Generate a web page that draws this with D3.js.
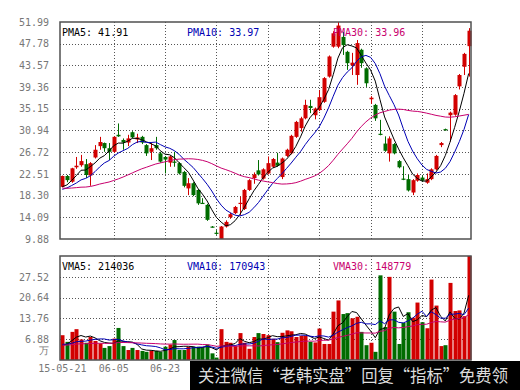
<!DOCTYPE html>
<html>
<head>
<meta charset="utf-8">
<script src="https://cdn.jsdelivr.net/npm/d3@7"></script>
<style>
	body{margin:0; background:#fff;}
	svg{display:block;}
	text{font-family:"DejaVu Sans Mono", monospace; font-size:10px;}
</style>
</head>
<body>
<svg id="chart" width="520" height="390"></svg>
<script>

// Daily candles from 15-05-21, one entry per trading day.
const opens  = [20.0,22.1,21.0,23.8,24.2,24.4,22.2,25.7,27.9,28.5, 27.5,26.8,30.1,29.1,28.6,30.6,29.2,29.7,28.1,26.8,
                28.1,26.5,25.8,24.7,24.9,24.6,22.9,19.7,20.7,19.4, 16.9,16.5,12.3,11.1,9.9,12.3,14.1,14.9,16.8,15.7,
                19.4,21.7,23.2,21.6,22.6,23.9,24.7,21.9,26.0,26.5, 29.7,31.4,33.3,35.7,33.9,34.9,36.5,41.4,47.2,47.2,
                49.1,46.2,43.6,41.7,46.6,43.0,37.0,35.9,30.3,28.4, 26.5,28.3,25.0,21.6,21.5,18.9,21.2,21.8,20.8,21.5,
                23.4,28.1,31.2,33.9,34.0,39.5,43.3,47.3];
const highs  = [22.2,22.3,23.7,25.8,26.2,25.4,24.8,28.1,29.7,28.6, 28.5,29.8,32.3,29.4,30.1,30.8,30.3,29.9,28.3,28.5,
                29.7,26.8,26.0,26.1,26.8,24.8,23.1,21.7,20.9,19.6, 17.8,16.7,12.4,11.6,12.4,13.5,15.0,16.3,18.1,19.6,
                21.5,22.8,25.2,23.6,25.9,25.6,26.6,25.7,27.4,30.1, 32.8,33.6,36.9,36.9,35.4,38.8,41.3,45.5,50.2,51.99,
                50.1,46.4,46.0,48.5,46.8,43.2,37.6,36.1,33.0,29.8, 29.8,28.5,25.2,24.0,22.3,21.5,22.6,22.2,22.6,23.6,
                26.2,28.7,31.3,34.6,38.0,41.9,46.0,50.8];
const lows   = [19.9,20.9,20.8,23.5,23.9,21.7,20.2,25.5,27.2,26.8, 25.2,26.6,29.7,27.2,27.9,29.4,28.5,28.3,26.0,25.2,
                27.2,24.7,22.6,23.9,23.9,22.4,19.9,18.4,18.2,16.5, 16.7,13.4,12.1,10.7,9.88,12.1,13.8,14.7,14.5,15.5,
                19.2,20.6,22.2,21.4,22.4,23.7,23.9,21.5,25.8,26.3, 29.5,30.7,33.1,34.3,33.1,34.7,36.3,41.2,47.0,46.9,
                45.6,42.7,41.7,39.8,43.1,39.4,36.1,32.8,30.0,26.8, 24.9,26.3,23.6,21.3,19.1,18.4,21.0,21.0,20.6,21.3,
                23.2,27.7,30.9,28.8,33.8,38.9,41.7,41.4];
const closes = [22.1,21.3,23.6,24.1,25.0,22.3,24.6,27.2,28.7,27.5, 26.8,29.7,29.8,28.6,29.4,29.6,29.6,28.6,26.5,27.5,
                27.5,24.9,25.3,25.9,24.7,22.6,20.2,20.7,18.4,16.8, 16.8,13.6,12.2,10.9,12.3,13.2,14.7,16.1,16.9,19.4,
                21.3,22.4,22.4,23.4,24.6,25.4,24.1,25.5,27.2,29.9, 32.6,33.3,35.9,35.3,35.2,37.4,41.1,45.3,49.8,51.3,
                47.5,44.0,44.1,47.9,44.0,40.1,37.3,33.3,30.1,27.0, 29.4,26.5,23.8,21.5,19.3,21.3,22.3,21.2,21.5,23.4,
                26.0,28.5,31.0,34.4,37.8,41.7,45.8,50.3];

// Volume in 万 (10k).
const volumes = [8.2,6.0,9.3,10.2,6.8,5.7,7.6,6.3,5.5,4.0, 4.6,7.1,10.6,4.6,3.3,4.0,3.3,3.0,2.7,3.0,
                 3.0,2.7,4.4,5.1,6.6,3.3,3.3,4.4,4.4,4.4, 4.2,5.1,2.2,0.8,10.2,6.0,5.7,4.6,8.9,5.7,
                 3.7,7.6,8.9,8.6,8.2,7.0,5.9,9.0,9.8,9.5, 7.6,8.0,8.0,6.0,5.8,10.4,5.3,5.3,16.0,19.7,
                 15.2,15.5,13.8,14.3,9.3,4.9,5.7,2.7,28.0,10.9, 27.5,16.0,5.3,12.3,15.8,14.0,19.0,12.5,10.5,26.6,
                 18.0,4.6,4.9,25.5,16.2,16.4,14.5,34.4];

// Days before the first visible candle, only needed to start the moving averages.
const priorCloses  = [22.5,22.0,21.8,22.3,21.6,21.0,21.2,20.8,21.5,21.0,20.6,20.5,
                      18.0,17.6,17.2,17.5,17.0,17.4,17.8,18.2,18.6,18.9,19.2,19.0,19.3,19.6,19.2,19.5,19.8];
const priorVolumes = [4.2,5.1,4.6,3.9,5.4,4.8,4.3,5.6,4.9,4.4,5.2,4.7,3.8,4.5,5.3,4.9,4.6,5.0,4.4,4.8,
                      5.8,6.2,5.1,5.4,5.0,4.3,3.8,4.1,4.1];

// Axis labels as printed.
const priceTicks  = ["9.88","14.09","18.30","22.51","26.72","30.94","35.15","39.36","43.57","47.78","51.99"];
const volumeTicks = ["6.88","13.76","20.64","27.52"];
const gridDays    = [0,11,22,33,44,55,66,77];
const dateLabels  = ["15-05-21","06-05","06-23"];

const priceLegend  = [["PMA5","41.91"],["PMA10","33.97"],["PMA30","33.96"]];
const volumeLegend = [["VMA5","214036"],["VMA10","170943"],["VMA30","148779"]];
const maPeriods    = [5,10,30];
const maColors     = ["#000000","#0000b4","#c8006e"];

const upColor = "#d20000", downColor = "#006c00";


let svg = d3.select("#chart");

// The two panels share the same x range.
let left = 60, right = 471;
let price = {top:22, bottom:239};
let vol   = {top:256, bottom:360};

let days = d3.range(closes.length);
let x = d3.scaleBand().domain(days).range([left, right]);
let cx = i => x(i) + x.bandwidth()/2;

let yP = d3.scaleLinear().domain([+priceTicks[0], +priceTicks[priceTicks.length-1]]).range([price.bottom, price.top]);
let yV = d3.scaleLinear().domain([0, 34.4]).range([vol.bottom, vol.top]);


function movingAverage(values, prior, n){
	let all = prior.concat(values);
	let off = prior.length;
	return values.map((v,i)=>d3.mean(all.slice(off+i-n+1, off+i+1)));
} // movingAverage


function grid(g, panel, yvalues, yscale){
	// dotted lines at the labelled levels and at every 11th day
	g.selectAll("line.h")
	  .data(yvalues)
	  .join("line")
	  .attr("x1", left).attr("x2", right)
	  .attr("y1", d=>Math.round(yscale(d))+0.5)
	  .attr("y2", d=>Math.round(yscale(d))+0.5);
	g.selectAll("line.v")
	  .data(gridDays.slice(1))
	  .join(enter=>enter.append("line").attr("class","v"))
	  .attr("x1", d=>Math.round(cx(d))+0.5).attr("x2", d=>Math.round(cx(d))+0.5)
	  .attr("y1", panel.top).attr("y2", panel.bottom);
	g.selectAll("line")
	  .attr("stroke","#555").attr("stroke-dasharray","1,2").attr("stroke-width",1);
} // grid


// ---- price panel ----
let pg = svg.append("g");
grid(pg.append("g"), price, priceTicks.slice(1,-1).map(Number), yP);

let candles = pg.append("g").selectAll("g")
  .data(days)
  .join("g")
  .attr("fill", i=>closes[i]>=opens[i] ? upColor : downColor)
  .attr("stroke", i=>closes[i]>=opens[i] ? upColor : downColor);

candles.append("line")
  .attr("x1", i=>Math.round(cx(i))+0.5).attr("x2", i=>Math.round(cx(i))+0.5)
  .attr("y1", i=>yP(highs[i])).attr("y2", i=>yP(lows[i]));

candles.append("rect")
  .attr("stroke","none")
  .attr("x", i=>Math.round(cx(i))-1.5)
  .attr("width", 4)
  .attr("y", i=>yP(Math.max(opens[i],closes[i])))
  .attr("height", i=>Math.max(1.2, Math.abs(yP(opens[i])-yP(closes[i]))));

let line = d3.line().x((d,i)=>cx(i));

maPeriods.forEach((n,k)=>{
	pg.append("path")
	  .datum(movingAverage(closes, priorCloses, n))
	  .attr("fill","none").attr("stroke", maColors[k]).attr("stroke-width",1)
	  .attr("d", line.y(d=>yP(d)));
});


// ---- volume panel ----
let vg = svg.append("g");
grid(vg.append("g"), vol, volumeTicks.map(Number), yV);

vg.append("g").selectAll("rect")
  .data(days)
  .join("rect")
  .attr("fill", i=>closes[i]>=opens[i] ? upColor : downColor)
  .attr("x", i=>Math.round(cx(i))-1.5)
  .attr("width", 4)
  .attr("y", i=>yV(volumes[i]))
  .attr("height", i=>yV(0)-yV(volumes[i]));

maPeriods.forEach((n,k)=>{
	vg.append("path")
	  .datum(movingAverage(volumes, priorVolumes, n))
	  .attr("fill","none").attr("stroke", maColors[k]).attr("stroke-width",1)
	  .attr("d", line.y(d=>yV(d)));
});


// ---- frames ----
[price, vol].forEach(p=>{
	svg.append("rect")
	  .attr("x", left).attr("y", p.top)
	  .attr("width", right-left).attr("height", p.bottom-p.top)
	  .attr("fill","none").attr("stroke","#505050").attr("stroke-width",1.5);
});


// ---- axes (labels only) ----
let axisP = d3.axisLeft(yP)
  .tickValues(priceTicks.map(Number))
  .tickFormat((d,i)=>priceTicks[i])
  .tickSize(0).tickPadding(11);
let axisV = d3.axisLeft(yV)
  .tickValues(volumeTicks.map(Number))
  .tickFormat((d,i)=>volumeTicks[i])
  .tickSize(0).tickPadding(11);
let axisD = d3.axisBottom(x)
  .tickValues(gridDays.slice(0, dateLabels.length))
  .tickFormat((d,i)=>dateLabels[i])
  .tickSize(0).tickPadding(5);

[svg.append("g").attr("transform",`translate(${left},0)`).call(axisP),
 svg.append("g").attr("transform",`translate(${left},0)`).call(axisV),
 svg.append("g").attr("transform",`translate(0,${vol.bottom})`).call(axisD)
].forEach(g=>{
	g.select(".domain").remove();
	g.selectAll("text").attr("fill","#777").style("font-family",'"DejaVu Sans Mono", monospace').style("font-size","10px");
});

// unit under the volume labels
svg.append("text")
  .attr("x", 49).attr("y", 354)
  .attr("text-anchor","end").attr("fill","#777")
  .text("万");


// ---- legends ----
let legendX = [62, 187, 333];
function legend(items, baseline){
	svg.append("g").selectAll("text")
	  .data(items)
	  .join("text")
	  .attr("x", (d,i)=>legendX[i]).attr("y", baseline)
	  .attr("fill", (d,i)=>maColors[i])
	  .attr("xml:space","preserve")
	  .text(d=>`${d[0]}: ${d[1]}`);
} // legend
legend(priceLegend, 36);
legend(volumeLegend, 270);


// ---- watermark strip along the bottom ----
svg.append("rect")
  .attr("x",190).attr("y",361).attr("width",330).attr("height",29)
  .attr("fill","#000");
svg.append("text")
  .attr("x",198).attr("y",382)
  .attr("textLength",310).attr("lengthAdjust","spacingAndGlyphs")
  .attr("fill","#dcdcdc")
  .style("font-family",'"Noto Sans CJK SC", sans-serif').style("font-size","17px")
  .text("关注微信“老韩实盘”回复“指标”免费领");

</script>
</body>
</html>
